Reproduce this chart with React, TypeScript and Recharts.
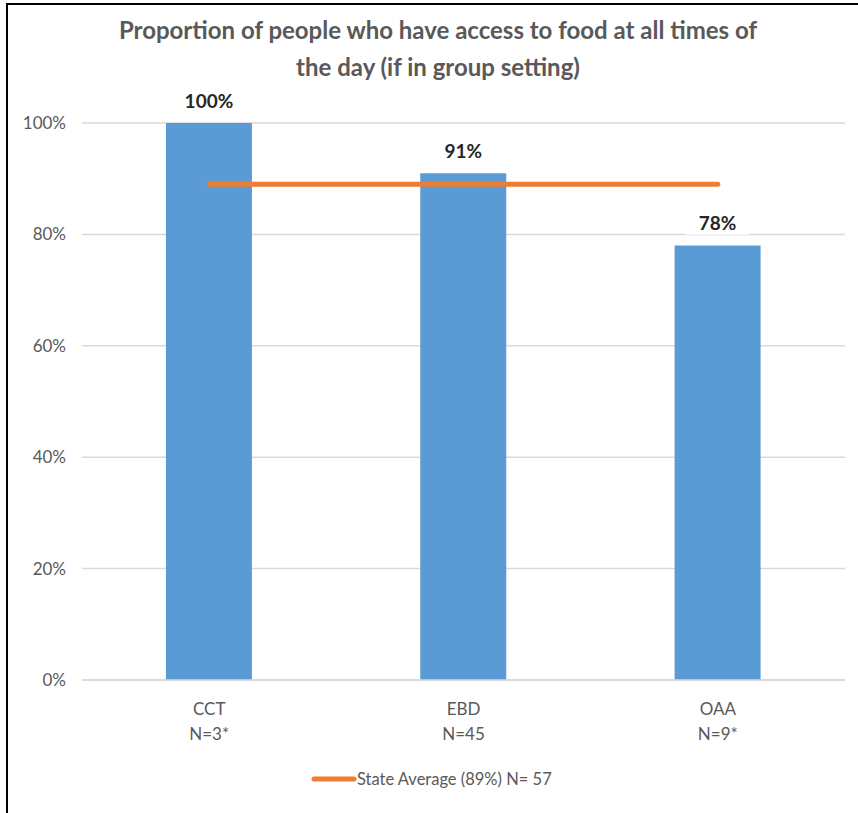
import { ComposedChart, Bar, Line, XAxis, YAxis, CartesianGrid, LabelList } from "recharts"

// chart values
const categories = ["CCT", "EBD", "OAA"]
const sampleSizes = ["N=3*", "N=45", "N=9*"]
const accessShare = [100, 91, 78]
const stateAverage = [89, 89, 89]
const yTicks = [0, 20, 40, 60, 80, 100]

const titleLines = [
  "Proportion of people who have access to food at all times of",
  "the day (if in group setting)",
]
const legendLabel = "State Average (89%) N= 57"

const data = categories.map((name, i) => ({
  name,
  n: sampleSizes[i],
  value: accessShare[i],
  avg: stateAverage[i],
}))

const FONT = "Lato, 'Open Sans', sans-serif"
const GREY = "#595959"

const CategoryTick = (props: any) => {
  const { x, y, payload, index } = props
  return (
    <text x={x} y={y} textAnchor="middle" fill={GREY} fontFamily={FONT} fontSize={17}>
      <tspan x={x} dy={27}>{payload.value}</tspan>
      <tspan x={x} dy={25}>{sampleSizes[index]}</tspan>
    </text>
  )
}

// data label with a white box behind it (hides the gridline like Excel does)
const ValueLabel = (props: any) => {
  const { x, y, width, value } = props
  const cx = x + width / 2
  const cy = y - 23
  return (
    <g>
      <rect x={cx - 32} y={cy - 12} width={64} height={24} fill="#fff" />
      <text x={cx} y={cy} textAnchor="middle" dominantBaseline="central" fill="#262626" fontFamily={FONT} fontWeight={700} fontSize={19}>
        {value}%
      </text>
    </g>
  )
}

export default function App() {
  return (
    <div style={{ position: "absolute", left: 0, top: 0, width: 858, height: 813, overflow: "hidden", background: "#fff" }}>
      <div style={{ position: "absolute", left: 6, top: 3, width: 900, height: 900, border: "2px solid #000" }} />
      <div style={{ position: "absolute", left: 0, top: 0 }}>
        <ComposedChart
          width={858}
          height={813}
          data={data}
          margin={{ top: 123, right: 13, bottom: 0, left: 0 }}
          barCategoryGap="33%"
        >
          <CartesianGrid vertical={false} stroke="#D9D9D9" strokeWidth={1.5} />
          <XAxis
            dataKey="name"
            axisLine={{ stroke: "#D9D9D9", strokeWidth: 1.5 }}
            tickLine={false}
            tick={<CategoryTick />}
            height={133}
            interval={0}
          />
          <YAxis
            domain={[0, 100]}
            ticks={yTicks}
            tickFormatter={(v: number) => `${v}%`}
            axisLine={false}
            tickLine={false}
            tickSize={0}
            tickMargin={16}
            width={82}
            tick={{ fill: GREY, fontFamily: FONT, fontSize: 17 }}
          />
          <Bar dataKey="value" fill="#5B9BD5" isAnimationActive={false}>
            <LabelList dataKey="value" content={<ValueLabel />} />
          </Bar>
          <Line
            type="linear"
            dataKey="avg"
            stroke="#ED7D31"
            strokeWidth={5}
            strokeLinecap="round"
            dot={false}
            activeDot={false}
            isAnimationActive={false}
          />
        </ComposedChart>
      </div>
      <div
        style={{
          position: "absolute",
          left: 0,
          top: 11,
          width: 876,
          textAlign: "center",
          fontFamily: FONT,
          fontWeight: 700,
          fontSize: 24,
          lineHeight: "37px",
          color: GREY,
        }}
      >
        {titleLines.map((t) => (
          <div key={t}>{t}</div>
        ))}
      </div>
      <div
        style={{
          position: "absolute",
          left: 310,
          top: 769,
          display: "flex",
          alignItems: "center",
          fontFamily: FONT,
          fontSize: 16.5,
          color: GREY,
        }}
      >
        <svg width={47} height={10}>
          <line x1={4} y1={5} x2={44} y2={5} stroke="#ED7D31" strokeWidth={5} strokeLinecap="round" />
        </svg>
        <span>{legendLabel}</span>
      </div>
    </div>
  )
}
